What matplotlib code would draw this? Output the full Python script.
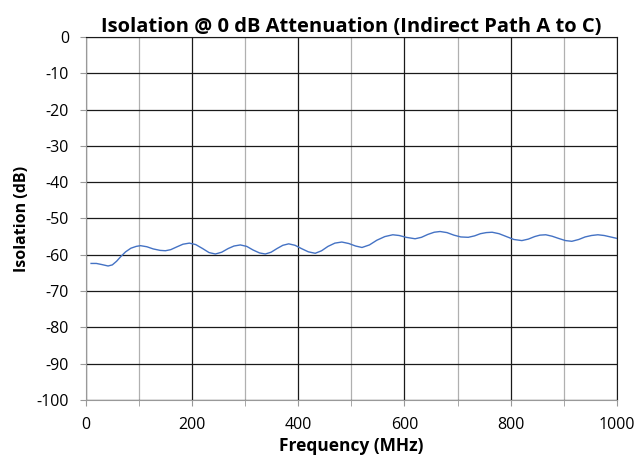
import numpy as np
import matplotlib.pyplot as plt
from matplotlib.ticker import MultipleLocator

plt.rcParams['font.family'] = ['Open Sans', 'DejaVu Sans']

# (MHz, dB)
freq = [10, 20, 30, 42, 50, 58, 66, 75, 85, 95, 103, 115, 127, 140, 150, 160, 172, 183, 195,
        207, 220, 232, 244, 256, 268, 279, 291, 303, 315, 327, 338, 349, 360, 371, 382, 394,
        406, 419, 432, 444, 456, 469, 482, 495, 508, 520, 534, 548, 563, 578, 590, 603, 620,
        632, 644, 656, 667, 680, 693, 706, 720, 732, 743, 754, 765, 778, 792, 806, 821, 833,
        845, 855, 866, 878, 890, 903, 915, 928, 940, 952, 964, 976, 988, 1000]
isolation = [-62.4, -62.4, -62.7, -63.1, -62.8, -61.8, -60.5, -59.2, -58.2, -57.7, -57.5, -57.8,
             -58.4, -58.8, -58.9, -58.6, -57.8, -57.1, -56.8,
             -57.2, -58.3, -59.4, -59.8, -59.3, -58.3, -57.6, -57.3, -57.7, -58.7, -59.5, -59.8,
             -59.3, -58.3, -57.4, -57.0, -57.4,
             -58.3, -59.2, -59.6, -58.9, -57.7, -56.8, -56.5, -56.9, -57.6, -58.0, -57.3, -56.0,
             -55.0, -54.5, -54.7, -55.2, -55.6,
             -55.2, -54.4, -53.8, -53.6, -53.9, -54.6, -55.1, -55.2, -54.8, -54.2, -53.9, -53.8,
             -54.2, -55.0, -55.8, -56.1, -55.7,
             -55.0, -54.6, -54.5, -54.9, -55.5, -56.1, -56.3, -55.8, -55.1, -54.7, -54.5, -54.7,
             -55.1, -55.5]

yticks = np.arange(-100, 1, 10)
xticks = np.arange(0, 1001, 200)

fig = plt.figure(figsize=(6.4, 4.57), dpi=100)
ax = fig.add_axes([0.134, 0.125, 0.830, 0.794])

ax.plot(freq, isolation, color='#4472c4', linewidth=1.0, zorder=3)

ax.set_xlim(0, 1000)
ax.set_ylim(-100, 0)
ax.set_xticks(xticks)
ax.set_yticks(yticks)
ax.set_yticklabels([str(v) for v in yticks])
ax.xaxis.set_minor_locator(MultipleLocator(100))

ax.grid(which='major', color='#1a1a1a', linewidth=0.9)
ax.grid(which='minor', axis='x', color='#b0b0b0', linewidth=0.9)
ax.set_axisbelow(True)

for side in ['left', 'bottom']:
    ax.spines[side].set_color('#999999')
for side in ['top', 'right']:
    ax.spines[side].set_color('#1a1a1a')

ax.tick_params(axis='both', which='both', colors='#999999', labelcolor='black', labelsize=11.5, length=4)
ax.tick_params(axis='x', which='both', pad=8)
ax.tick_params(axis='y', which='both', pad=8)

ax.set_title('Isolation @ 0 dB Attenuation (Indirect Path A to C)', fontsize=14.5, fontweight='bold', pad=1.5)
ax.set_xlabel('Frequency (MHz)', fontsize=12.5, fontweight='bold', labelpad=3)
ax.set_ylabel('Isolation (dB)', fontsize=11.5, fontweight='bold', labelpad=5)

fig.savefig('out.png', dpi=100)
